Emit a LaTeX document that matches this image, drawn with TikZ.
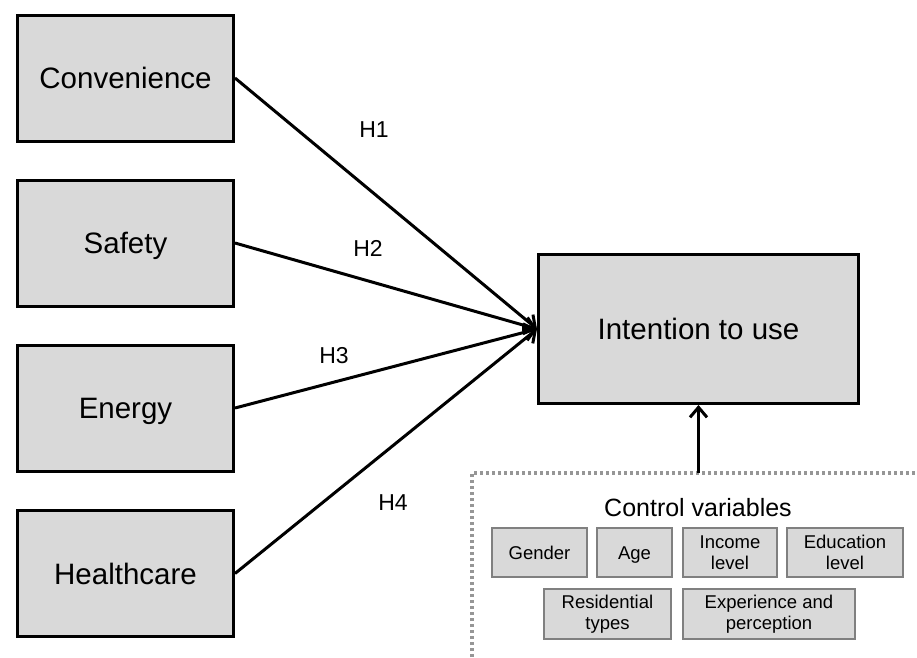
\documentclass[tikz,border=0pt]{standalone}
\usepackage{fontspec}
\usetikzlibrary{arrows.meta}
\setmainfont{Liberation Sans}
\definecolor{boxgray}{HTML}{D9D9D9}
\definecolor{edgegray}{HTML}{808080}
\definecolor{dotgray}{HTML}{969696}
\begin{document}
\begin{tikzpicture}[x=1pt,y=-1pt,
  box/.style={draw,fill=boxgray,line width=3pt,minimum width=216pt,minimum height=126pt,text height=21pt,text depth=0pt,font=\fontsize{29.5}{34}\selectfont},
  cbox/.style={draw=edgegray,fill=boxgray,line width=2pt,minimum height=49pt,inner sep=1pt,align=center,font=\fontsize{18.5}{21}\selectfont},
  hlabel/.style={font=\fontsize{23}{27}\selectfont},
  arr/.style={-{Straight Barb[length=10pt,width=17pt]},line width=3pt}]
\useasboundingbox (0,0) rectangle (917,657);
\node [box](conv) at(125.5,78) {Convenience};
\node [box](safe) at(125.5,243) {Safety};
\node [box](ener) at(125.5,408) {Energy};
\node [box](heal) at(125.5,573.5) {Healthcare};
\node [box,minimum width=320pt,minimum height=149pt](int) at(698.5,329) {Intention to use};
\draw[arr] (conv.east) -- (int.west);
\draw[arr] (safe.east) -- (int.west);
\draw[arr] (ener.east) -- (int.west);
\draw[arr] (heal.east) -- (int.west);
\node [hlabel](h1) at(374,130) {H1};
\node [hlabel](h2) at(368,248) {H2};
\node [hlabel](h3) at(334,356) {H3};
\node [hlabel](h4) at(393,503) {H4};
% control variables
\draw[dotgray,line width=3.5pt,dash pattern=on 3pt off 3pt] (472,657) -- (472,473) -- (917,473);
\coordinate (cv) at(698.5,473);
\draw[arr] (cv) -- (int.south);
\node [font=\fontsize{25}{30}\selectfont](ctrl) at(698,508) {Control variables};
\node [cbox,minimum width=95pt,text height=13pt,text depth=0pt](gen) at(539.5,552.5) {Gender};
\node [cbox,minimum width=75pt,text height=13pt,text depth=0pt](age) at(634.5,552.5) {Age};
\node [cbox,minimum width=94pt](inc) at(730,552.5) {Income\\level};
\node [cbox,minimum width=116pt](edu) at(845,552.5) {Education\\level};
\node [cbox,minimum width=127pt,minimum height=50pt](res) at(607.5,614) {Residential\\types};
\node [cbox,minimum width=172pt,minimum height=50pt](exp) at(769,614) {Experience and\\perception};
\end{tikzpicture}
\end{document}
